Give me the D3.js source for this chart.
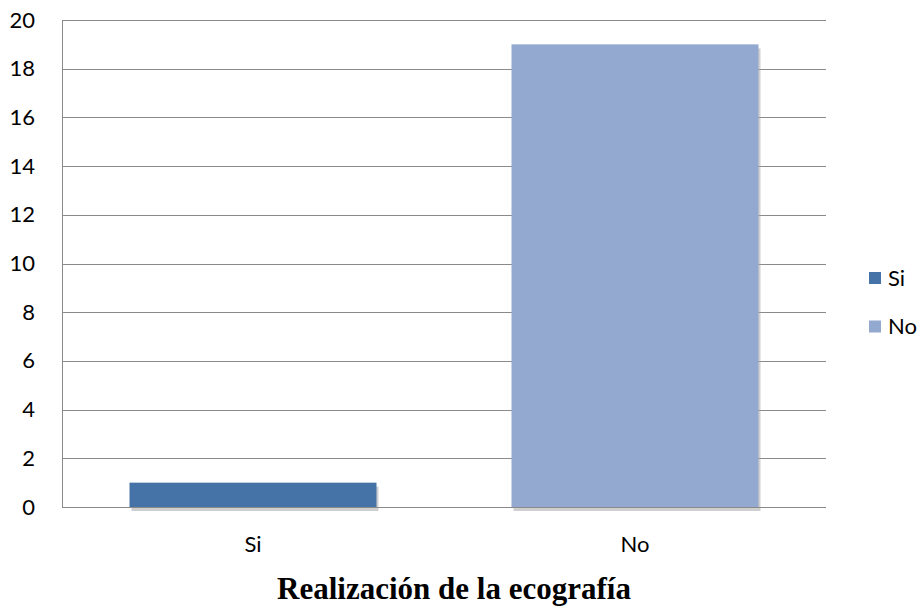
<!DOCTYPE html>
<html>
<head>
<meta charset="utf-8">
<script src="https://cdn.jsdelivr.net/npm/d3@7"></script>
<style>
  html, body { margin: 0; padding: 0; background: #fff; }
  svg { display: block; }
</style>
</head>
<body>
<svg id="chart" width="923" height="610"></svg>
<script>
// Data
const categories = ["Si", "No"];
const values = [1, 19];
const yTicks = [0, 2, 4, 6, 8, 10, 12, 14, 16, 18, 20];
const colors = ["#4572A7", "#94A9CF"];
const title = "Realización de la ecografía";

const svg = d3.select("#chart");
const plot = { left: 62, right: 826, top: 20, bottom: 507 };
const labelFont = "Lato, 'Open Sans', sans-serif";
const labelSize = 22;

const x = d3.scaleBand()
  .domain(categories)
  .range([plot.left, plot.right])
  .paddingInner(0.3534)
  .paddingOuter(0.1767);

const y = d3.scaleLinear()
  .domain([0, 20])
  .range([plot.bottom, plot.top]);

// Horizontal gridlines
svg.append("g")
  .selectAll("line")
  .data(yTicks)
  .join("line")
  .attr("x1", plot.left)
  .attr("x2", plot.right)
  .attr("y1", d => Math.round(y(d)) + 0.5)
  .attr("y2", d => Math.round(y(d)) + 0.5)
  .attr("stroke", "#8a8a8a")
  .attr("stroke-width", 1);

// Y axis labels
const yAxis = svg.append("g")
  .attr("transform", `translate(${plot.left},0)`)
  .call(d3.axisLeft(y).tickValues(yTicks).tickSize(0).tickPadding(27));
yAxis.select(".domain").remove();
yAxis.selectAll("text")
  .attr("font-family", labelFont)
  .attr("font-size", labelSize)
  .attr("fill", "#000");

// Bar shadows
svg.append("g")
  .selectAll("rect")
  .data(categories)
  .join("rect")
  .attr("x", d => x(d) + 2)
  .attr("y", (d, i) => y(values[i]) + 4)
  .attr("width", x.bandwidth())
  .attr("height", (d, i) => y(0) - y(values[i]))
  .attr("fill", "#a8a8a8")
  .attr("opacity", 0.55);

// Bars
svg.append("g")
  .selectAll("rect")
  .data(categories)
  .join("rect")
  .attr("x", d => x(d))
  .attr("y", (d, i) => y(values[i]))
  .attr("width", x.bandwidth())
  .attr("height", (d, i) => y(0) - y(values[i]))
  .attr("fill", (d, i) => colors[i]);

// Axis lines
svg.append("line")
  .attr("x1", plot.left + 0.5).attr("x2", plot.left + 0.5)
  .attr("y1", plot.top).attr("y2", plot.bottom + 1)
  .attr("stroke", "#8a8a8a");
svg.append("line")
  .attr("x1", plot.left).attr("x2", plot.right)
  .attr("y1", Math.round(y(0)) + 0.5).attr("y2", Math.round(y(0)) + 0.5)
  .attr("stroke", "#8a8a8a");

// X axis labels
const xAxis = svg.append("g")
  .attr("transform", `translate(0,${plot.bottom})`)
  .call(d3.axisBottom(x).tickSize(0).tickPadding(29));
xAxis.select(".domain").remove();
xAxis.selectAll("text")
  .attr("font-family", labelFont)
  .attr("font-size", labelSize)
  .attr("fill", "#000");

// Legend
const legend = svg.append("g");
categories.forEach((c, i) => {
  const cy = 278 + i * 48.5;
  legend.append("rect")
    .attr("x", 869).attr("y", cy - 6)
    .attr("width", 12).attr("height", 12)
    .attr("fill", colors[i]);
  legend.append("text")
    .attr("x", 888).attr("y", cy)
    .attr("dy", "0.35em")
    .attr("font-family", labelFont)
    .attr("font-size", labelSize)
    .text(c);
});

// Title
svg.append("text")
  .attr("x", 454)
  .attr("y", 599)
  .attr("text-anchor", "middle")
  .attr("font-family", "'Liberation Serif', 'Times New Roman', serif")
  .attr("font-weight", "bold")
  .attr("font-size", 31)
  .text(title);
</script>
</body>
</html>
